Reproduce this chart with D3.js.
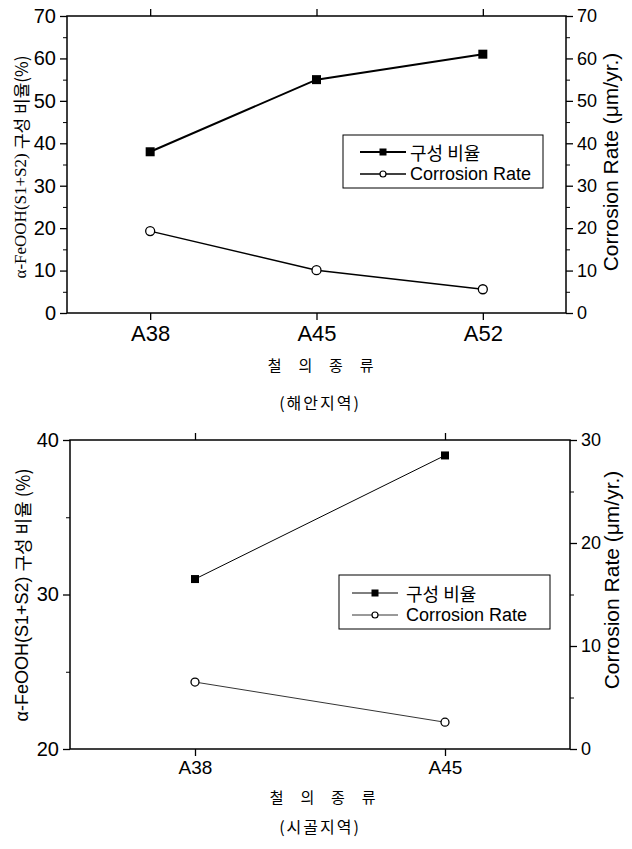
<!DOCTYPE html>
<html><head><meta charset="utf-8">
<script src="https://cdn.jsdelivr.net/npm/d3@7"></script>
<style>body{margin:0;background:#fff}svg{display:block}</style>
</head><body>
<script>
// ---- data ----
const catsTop = ["A38","A45","A52"];
const ratioTop = [38, 55, 61];
const rateTop = [19.3, 10.1, 5.6];
const catsBot = ["A38","A45"];
const ratioBot = [31, 39];
const rateBot = [6.5, 2.6];
const legendLabels = ["구성 비율","Corrosion Rate"];

const W = 632, H = 849;
const svg = d3.select("body").append("svg").attr("width", W).attr("height", H);
const SANS = "'Liberation Sans', Arial, sans-serif";
const KR = "'Noto Sans CJK KR', sans-serif";

function panel(cfg){
  const g = svg.append("g");
  const x = d3.scalePoint().domain(cfg.cats).range([cfg.x0, cfg.x1]).padding(0.5);
  const yL = d3.scaleLinear().domain(cfg.lDom).range([cfg.y1, cfg.y0]);
  const yR = d3.scaleLinear().domain(cfg.rDom).range([cfg.y1, cfg.y0]);

  g.append("rect").attr("x", cfg.x0).attr("y", cfg.y0)
    .attr("width", cfg.x1-cfg.x0).attr("height", cfg.y1-cfg.y0)
    .attr("fill","none").attr("stroke","#000").attr("stroke-width",1.5);

  const la = g.append("g").attr("transform",`translate(${cfg.x0},0)`)
    .call(d3.axisLeft(yL).tickValues(cfg.lTicks).tickSize(7).tickPadding(4).tickFormat(d3.format("d")));
  la.select(".domain").remove();
  la.selectAll("line").attr("stroke-width",1.3);
  la.selectAll("text").attr("font-family",SANS).attr("font-size",cfg.tickFs);
  g.append("g").attr("transform",`translate(${cfg.x0},0)`)
    .call(d3.axisLeft(yL).tickValues(cfg.lMinor).tickSize(4).tickFormat(""))
    .call(a=>a.select(".domain").remove());

  const ra = g.append("g").attr("transform",`translate(${cfg.x1},0)`)
    .call(d3.axisRight(yR).tickValues(cfg.rTicks).tickSize(7).tickPadding(4).tickFormat(d3.format("d")));
  ra.select(".domain").remove();
  ra.selectAll("line").attr("stroke-width",1.3);
  ra.selectAll("text").attr("font-family",SANS).attr("font-size",cfg.rTickFs);
  g.append("g").attr("transform",`translate(${cfg.x1},0)`)
    .call(d3.axisRight(yR).tickValues(cfg.rMinor).tickSize(4).tickFormat(""))
    .call(a=>a.select(".domain").remove());

  const ba = g.append("g").attr("transform",`translate(0,${cfg.y1})`)
    .call(d3.axisBottom(x).tickSize(7).tickPadding(5));
  ba.select(".domain").remove();
  ba.selectAll("line").attr("stroke-width",1.3);
  ba.selectAll("text").attr("font-family",SANS).attr("font-size",cfg.catFs);
  const ta = g.append("g").attr("transform",`translate(0,${cfg.y0})`)
    .call(d3.axisTop(x).tickSize(7).tickFormat(""));
  ta.select(".domain").remove();
  ta.selectAll("line").attr("stroke-width",1.3);

  const d1 = cfg.cats.map((c,i)=>({c, v:cfg.ratio[i]}));
  const d2 = cfg.cats.map((c,i)=>({c, v:cfg.rate[i]}));
  g.append("path").datum(d1).attr("fill","none").attr("stroke","#000").attr("stroke-width",cfg.lw)
    .attr("d", d3.line().x(d=>x(d.c)).y(d=>yL(d.v)));
  g.append("path").datum(d2).attr("fill","none").attr("stroke","#000").attr("stroke-width",cfg.lw2)
    .attr("d", d3.line().x(d=>x(d.c)).y(d=>yR(d.v)));
  const s = cfg.sq;
  g.selectAll(".sq").data(d1).join("rect")
    .attr("x",d=>x(d.c)-s/2).attr("y",d=>yL(d.v)-s/2).attr("width",s).attr("height",s).attr("fill","#000");
  g.selectAll(".ci").data(d2).join("circle")
    .attr("cx",d=>x(d.c)).attr("cy",d=>yR(d.v)).attr("r",cfg.cr)
    .attr("fill","#fff").attr("stroke","#000").attr("stroke-width",1.3);

  const lt = g.append("text").attr("transform",`translate(${cfg.ltx},${cfg.ltY}) rotate(-90)`)
    .attr("text-anchor","middle").attr("dominant-baseline","central").attr("font-size",cfg.ltFs);
  lt.append("tspan").attr("font-family",cfg.ltFont).text(cfg.ltA);
  lt.append("tspan").attr("font-family",KR).text(cfg.ltB);
  g.append("text").attr("transform",`translate(${cfg.rtx},${cfg.rtY}) rotate(-90)`)
    .attr("text-anchor","middle").attr("dominant-baseline","central")
    .attr("font-family",SANS).attr("font-size",cfg.rtFs).text("Corrosion Rate (μm/yr.)");

  g.append("text").attr("x",cfg.xtX).attr("y",cfg.xtY).attr("text-anchor","middle")
    .attr("font-family",KR).attr("font-size",15).attr("letter-spacing","0.45em").text("철 의 종 류");
  g.append("text").attr("x",cfg.capX).attr("y",cfg.capY).attr("text-anchor","middle")
    .attr("font-family",KR).attr("font-size",16).attr("letter-spacing","2px").text(cfg.cap);

  const L = cfg.leg;
  g.append("rect").attr("x",L.x).attr("y",L.y).attr("width",L.w).attr("height",L.h)
    .attr("fill","#fff").attr("stroke","#000").attr("stroke-width",1);
  const rows = [{lw:cfg.lw, kind:"sq"},{lw:cfg.lw2, kind:"ci"}];
  rows.forEach((r,i)=>{
    const yy = L.y + L.r1 + i*L.dy;
    g.append("line").attr("x1",L.x+L.lx0).attr("x2",L.x+L.lx1).attr("y1",yy).attr("y2",yy)
      .attr("stroke","#000").attr("stroke-width",r.lw);
    const mx = (L.x+L.lx0+L.x+L.lx1)/2;
    if(r.kind==="sq") g.append("rect").attr("x",mx-3.5).attr("y",yy-3.5).attr("width",7).attr("height",7).attr("fill","#000");
    else g.append("circle").attr("cx",mx).attr("cy",yy).attr("r",3).attr("fill","#fff").attr("stroke","#000").attr("stroke-width",1.2);
    g.append("text").attr("x",L.x+L.tx).attr("y",yy).attr("dominant-baseline","central")
      .attr("font-family", i===0?KR:SANS).attr("font-size",L.fs).text(legendLabels[i]);
  });
}

panel({
  cats:catsTop, ratio:ratioTop, rate:rateTop,
  x0:67, x1:566, y0:16, y1:313,
  lDom:[0,70], rDom:[0,70],
  lTicks:d3.range(0,71,10), lMinor:d3.range(5,70,10),
  rTicks:d3.range(0,71,10), rMinor:d3.range(5,70,10),
  tickFs:20, rTickFs:18, catFs:22, lw:2, lw2:1.5, sq:9, cr:4.5,
  ltx:20, ltY:167, ltFs:17, ltFont:"'Liberation Serif', serif", ltA:"α-FeOOH(S1+S2) ", ltB:"구성 비율(%)",
  rtx:610, rtY:162, rtFs:21,
  xtX:324, xtY:371, capX:320, capY:409, cap:"(해안지역)",
  leg:{x:343, y:135, w:200, h:53, r1:17, dy:22, lx0:17, lx1:63, tx:67, fs:18}
});

panel({
  cats:catsBot, ratio:ratioBot, rate:rateBot,
  x0:70, x1:570, y0:440, y1:749,
  lDom:[20,40], rDom:[0,30],
  lTicks:[20,30,40], lMinor:[25,35],
  rTicks:[0,10,20,30], rMinor:[5,15,25],
  tickFs:20, rTickFs:18, catFs:19, lw:1, lw2:0.8, sq:8, cr:4,
  ltx:22, ltY:595, ltFs:18, ltFont:SANS, ltA:"α-FeOOH(S1+S2) ", ltB:"구성 비율 (%)",
  rtx:611, rtY:580, rtFs:21,
  xtX:326, xtY:803, capX:320, capY:833, cap:"(시골지역)",
  leg:{x:339, y:575, w:211, h:54, r1:18, dy:22, lx0:13, lx1:59, tx:67, fs:18}
});
</script>
</body></html>
